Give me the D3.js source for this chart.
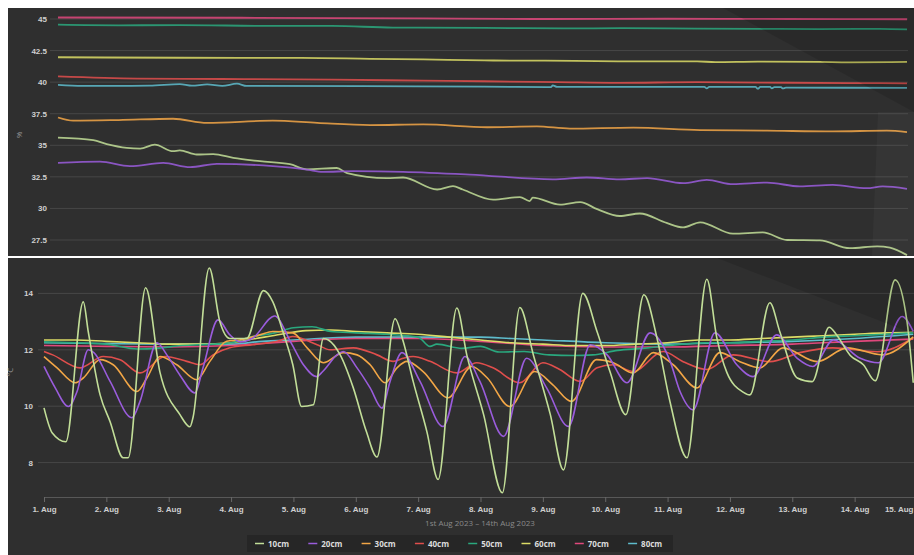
<!DOCTYPE html>
<html>
<head>
<meta charset="utf-8">
<script src="https://cdn.jsdelivr.net/npm/d3@7"></script>
<style>
  body { margin: 0; background: #ffffff; }
  svg { display: block; font-family: "Open Sans", "DejaVu Sans", sans-serif; }
</style>
</head>
<body>
<svg id="chart" width="914" height="555"></svg>
<script>
// ---- Series & styling keys ----
const depths = ["10cm", "20cm", "30cm", "40cm", "50cm", "60cm", "70cm", "80cm"];
const depthColors = ["#c2de98", "#9a5cdc", "#f2a646", "#e04e4c", "#2aa87e", "#dcdc66", "#e0487c", "#5ebccc"];

// ---- Soil moisture (%), [days since 1 Aug 00:00, value] ----
const moist10 = [[0,35.6],[0.58,35.4],[0.8,35.1],[1.13,34.8],[1.35,34.74],[1.59,35.05],[1.89,34.53],[2.0,34.6],[2.28,34.27],[2.55,34.3],[2.88,34.0],[3.32,33.74],[3.81,33.5],[4.09,33.1],[4.58,33.2],[4.75,32.8],[5.4,32.4],[5.67,32.45],[6.23,31.5],[6.49,31.77],[6.65,31.5],[7.15,30.7],[7.59,30.9],[7.75,30.58],[7.8,30.85],[8.25,30.3],[8.58,30.5],[8.86,29.94],[9.23,29.4],[9.56,29.6],[10.0,28.85],[10.27,28.5],[10.55,28.9],[11.09,28.0],[11.58,28.1],[11.98,27.5],[12.52,27.47],[13.01,26.85],[13.46,27.0],[13.67,26.9],[13.95,26.3]];
const moist20 = [[0,33.6],[0.69,33.7],[1.18,33.35],[1.73,33.6],[2.17,33.27],[2.61,33.53],[3.53,33.35],[4.09,33.08],[4.35,32.9],[4.85,32.95],[5.67,32.9],[6.77,32.68],[8.13,32.3],[8.69,32.45],[9.23,32.3],[9.68,32.4],[10.27,32.0],[10.66,32.26],[11.09,31.92],[11.65,32.05],[12.19,31.74],[12.73,31.87],[13.29,31.6],[13.55,31.74],[13.95,31.55]];
const moist30 = [[0,37.2],[0.25,36.95],[1.0,37.0],[1.89,37.1],[2.45,36.77],[3.53,36.95],[4.26,36.77],[5.13,36.6],[6.0,36.65],[7.05,36.43],[7.87,36.5],[8.41,36.32],[9.45,36.4],[10.55,36.2],[11.65,36.16],[12.73,36.1],[13.62,36.16],[13.95,36.05]];
const moist40 = [[0,40.45],[1.3,40.28],[2.7,40.25],[4.5,40.2],[6.0,40.12],[7.0,40.07],[8.2,40.0],[9.2,39.94],[10.5,40.0],[12.0,39.95],[13.0,39.93],[13.95,39.9]];
const moist50 = [[0,44.55],[1.0,44.5],[2.0,44.52],[3.5,44.45],[4.5,44.45],[5.5,44.32],[7.0,44.3],[8.3,44.25],[9.3,44.28],[10.5,44.24],[11.5,44.22],[12.5,44.2],[13.5,44.22],[13.95,44.18]];
const moist60 = [[0,41.97],[2.0,41.93],[4.0,41.92],[5.13,41.85],[6.0,41.8],[7.0,41.72],[8.0,41.7],[9.2,41.65],[10.5,41.65],[10.8,41.58],[11.5,41.62],[12.5,41.6],[13.0,41.57],[13.95,41.6]];
const moist70 = [[0,45.12],[3.0,45.1],[6.0,45.05],[8.0,45.0],[10.0,45.02],[12.0,45.0],[13.95,44.98]];
const moist80 = [[0,39.78],[0.4,39.7],[1.5,39.72],[2.0,39.85],[2.2,39.72],[2.45,39.82],[2.7,39.7],[2.94,39.88],[3.1,39.7],[5.0,39.68],[7.0,39.65],[8.1,39.6],[8.13,39.75],[8.2,39.62],[9.5,39.62],[10.62,39.62],[10.66,39.5],[10.7,39.62],[11.46,39.62],[11.5,39.48],[11.54,39.62],[11.7,39.62],[11.73,39.5],[11.77,39.6],[11.88,39.6],[11.91,39.5],[11.96,39.56],[13.95,39.55]];

// ---- Soil temperature (°C), [days since 1 Aug 00:00, value] ----
const temp10 = [[0,9.94],[0.13,9.06],[0.35,8.74],[0.63,13.7],[0.71,12.64],[0.9,10.4],[1.06,9.45],[1.27,8.17],[1.35,8.17],[1.63,14.2],[1.86,11.2],[2.18,9.7],[2.34,9.27],[2.39,9.6],[2.65,14.9],[2.82,13.0],[2.98,12.4],[3.25,12.4],[3.52,14.1],[3.67,13.7],[3.83,12.65],[3.99,11.47],[4.13,9.99],[4.32,10.05],[4.48,12.4],[4.56,12.35],[4.75,11.82],[4.96,10.65],[5.17,9.1],[5.34,8.2],[5.63,13.1],[5.76,12.3],[5.92,10.88],[6.14,9.1],[6.32,7.4],[6.62,13.48],[6.78,11.82],[7.05,9.7],[7.35,6.93],[7.63,13.5],[7.85,11.8],[8.12,9.7],[8.33,7.74],[8.64,14.0],[8.87,12.64],[9.08,11.2],[9.33,9.7],[9.62,13.95],[9.83,12.42],[10.04,10.15],[10.31,8.17],[10.63,14.5],[10.79,12.42],[10.95,11.2],[11.21,10.5],[11.32,10.4],[11.64,13.67],[11.8,12.64],[12.08,11.0],[12.32,10.87],[12.59,12.8],[12.72,12.5],[12.93,11.8],[13.14,11.47],[13.33,10.9],[13.65,14.48],[13.84,13.0],[13.94,10.83]];
const temp20 = [[0,11.41],[0.18,10.65],[0.39,9.99],[0.53,10.52],[0.71,12.0],[0.8,11.9],[1.06,10.88],[1.41,9.59],[1.54,10.17],[1.81,12.25],[1.97,11.82],[2.18,11.1],[2.42,10.47],[2.55,11.36],[2.79,13.06],[2.98,12.53],[3.15,12.28],[3.35,12.42],[3.7,13.2],[3.95,12.3],[4.16,11.47],[4.37,11.05],[4.47,11.23],[4.7,11.82],[4.8,11.94],[5.02,11.36],[5.23,10.65],[5.42,9.93],[5.55,10.88],[5.74,11.9],[6.03,10.88],[6.4,9.28],[6.75,11.76],[6.99,10.88],[7.37,8.93],[7.74,11.7],[8.06,10.65],[8.41,9.28],[8.76,12.18],[9.03,11.82],[9.35,10.83],[9.72,12.6],[10.04,11.6],[10.2,10.52],[10.41,9.87],[10.76,12.6],[11.11,11.47],[11.37,11.05],[11.75,12.53],[12.08,11.7],[12.33,11.41],[12.66,12.35],[13.09,11.7],[13.38,11.54],[13.76,13.18],[13.94,12.65]];
const temp30 = [[0,11.76],[0.21,11.36],[0.5,10.83],[0.63,11.0],[0.9,11.65],[1.11,11.47],[1.49,10.52],[1.65,11.0],[1.86,11.76],[2.13,11.47],[2.45,10.94],[2.66,11.59],[2.93,12.3],[3.14,12.35],[3.46,12.53],[3.67,12.65],[3.99,12.6],[4.22,12.07],[4.48,11.54],[4.8,11.9],[5.02,11.82],[5.23,11.47],[5.47,10.83],[5.66,11.36],[5.82,11.59],[6.08,11.23],[6.48,10.3],[6.86,11.41],[7.11,11.0],[7.47,9.99],[7.87,11.23],[8.16,10.76],[8.46,10.17],[8.86,11.65],[9.13,11.54],[9.45,11.18],[9.77,11.9],[10.09,11.47],[10.47,10.65],[10.84,11.9],[11.16,11.58],[11.48,11.36],[11.85,12.07],[12.4,11.58],[12.88,12.07],[13.44,11.82],[13.94,12.46]];
const temp40 = [[0,11.94],[0.14,11.82],[0.58,11.36],[0.95,11.76],[1.22,11.65],[1.54,11.18],[1.94,11.76],[2.29,11.59],[2.5,11.47],[2.71,11.82],[2.98,12.07],[3.35,12.18],[3.74,12.3],[3.99,12.47],[4.38,12.18],[4.59,12.0],[4.96,12.07],[5.34,11.82],[5.6,11.59],[5.76,11.7],[5.92,11.76],[6.19,11.59],[6.62,11.18],[6.94,11.54],[7.2,11.36],[7.63,10.83],[8.0,11.54],[8.27,11.3],[8.6,10.88],[8.87,11.36],[9.13,11.47],[9.45,11.23],[9.93,11.94],[10.25,11.58],[10.63,11.3],[11.05,11.82],[11.64,11.58],[12.12,11.9],[12.65,12.07],[13.36,11.93],[13.94,12.42]];
const temp50 = [[0,12.28],[0.5,12.25],[1.0,12.2],[1.5,12.03],[1.8,12.05],[2.2,12.15],[2.7,12.2],[3.0,12.25],[3.3,12.45],[3.7,12.6],[4.0,12.78],[4.3,12.82],[4.6,12.65],[5.0,12.6],[5.5,12.55],[6.0,12.45],[6.19,12.12],[6.3,12.2],[6.7,12.05],[7.0,12.12],[7.3,11.92],[7.7,11.94],[8.1,11.82],[8.5,11.8],[8.8,11.82],[9.2,11.98],[9.6,12.05],[10.0,12.15],[10.6,12.25],[11.0,12.25],[11.5,12.3],[12.0,12.35],[12.5,12.45],[13.0,12.5],[13.5,12.55],[13.94,12.6]];
const temp60 = [[0,12.35],[0.5,12.35],[1.0,12.3],[1.5,12.25],[2.0,12.2],[2.5,12.2],[3.0,12.25],[3.4,12.4],[3.8,12.55],[4.2,12.68],[4.6,12.7],[5.0,12.65],[5.5,12.6],[6.0,12.55],[6.5,12.45],[7.0,12.35],[7.5,12.25],[8.0,12.2],[8.5,12.15],[9.0,12.15],[9.5,12.2],[10.0,12.25],[10.5,12.35],[11.0,12.35],[11.5,12.4],[12.0,12.45],[12.5,12.5],[13.0,12.55],[13.5,12.6],[13.94,12.62]];
const temp70 = [[0,12.15],[1.0,12.12],[2.0,12.1],[3.0,12.15],[4.0,12.3],[5.0,12.4],[6.0,12.4],[7.0,12.3],[8.0,12.15],[9.0,12.1],[10.0,12.1],[11.0,12.15],[12.0,12.2],[13.0,12.3],[13.94,12.38]];
const temp80 = [[0,12.25],[1.0,12.22],[2.0,12.2],[3.0,12.2],[3.5,12.3],[4.0,12.35],[5.0,12.45],[6.0,12.45],[7.0,12.45],[7.5,12.4],[8.0,12.35],[9.0,12.25],[10.0,12.2],[11.0,12.25],[12.0,12.3],[13.0,12.4],[13.94,12.55]];

const moistSeries = [moist10, moist20, moist30, moist40, moist50, moist60, moist70, moist80];
const tempSeries = [temp10, temp20, temp30, temp40, temp50, temp60, temp70, temp80];

// ---- Axis ticks & text ----
const moistTicks = [27.5, 30, 32.5, 35, 37.5, 40, 42.5, 45];
const tempTicks = [8, 10, 12, 14];
const moistUnit = "%";
const tempUnit = "°C";
const rangeTitle = "1st Aug 2023 – 14th Aug 2023";

// ---- Helpers ----
const DAY = 864e5;
const start = new Date(2023, 7, 1);
const at = d => new Date(+start + d * DAY);

const svg = d3.select("#chart");
const W = 914, H = 555;

// Panels
svg.append("rect").attr("x", 0).attr("y", 0).attr("width", W).attr("height", H).attr("fill", "#ffffff");
svg.append("rect").attr("x", 8).attr("y", 8).attr("width", W - 8).attr("height", 248).attr("fill", "#2f2f2f");
svg.append("rect").attr("x", 8).attr("y", 258).attr("width", W - 8).attr("height", H - 258).attr("fill", "#2f2f2f");

const defs = svg.append("defs");
defs.append("clipPath").attr("id", "clipTop").append("rect").attr("x", 8).attr("y", 8).attr("width", W - 8).attr("height", 248);
defs.append("clipPath").attr("id", "clipBottom").append("rect").attr("x", 8).attr("y", 258).attr("width", W - 8).attr("height", 239);

const labelFont = "8px";

// ================= Top: soil moisture =================
const xTop = d3.scaleTime().domain([at(0), at(13.95)]).range([58, 907]);
const yTop = d3.scaleLinear().domain([27.5, 45]).range([240, 19]);

const gTop = svg.append("g");
gTop.selectAll("line.grid").data(moistTicks).join("line")
  .attr("x1", 50).attr("x2", 908)
  .attr("y1", d => yTop(d)).attr("y2", d => yTop(d))
  .attr("stroke", "#474747").attr("stroke-width", 1);

const yAxisTop = d3.axisLeft(yTop).tickValues(moistTicks).tickSize(0).tickPadding(0).tickFormat(d3.format("~g"));
const gyTop = gTop.append("g").attr("transform", "translate(47,0)").call(yAxisTop);
gyTop.select(".domain").remove();
gyTop.selectAll("text").attr("fill", "#cfcfcf").style("font-size", labelFont).style("font-weight", "700");

gTop.append("text").attr("transform", "translate(22,135) rotate(-90)")
  .attr("text-anchor", "middle").attr("fill", "#9a9a9a").style("font-size", "8px").text(moistUnit);

const lineTop = d3.line().x(d => xTop(at(d[0]))).y(d => yTop(d[1])).curve(d3.curveMonotoneX);
const topLines = gTop.append("g").attr("clip-path", "url(#clipTop)");
moistSeries.forEach((s, i) => {
  topLines.append("path").datum(s).attr("d", lineTop)
    .attr("fill", "none").attr("stroke", depthColors[i]).attr("stroke-opacity", 0.85)
    .attr("stroke-width", 1.8).attr("stroke-linejoin", "round");
});

// ================= Bottom: soil temperature =================
const xBot = d3.scaleTime().domain([at(0), at(14)]).range([44, 917]);
const yBot = d3.scaleLinear().domain([8, 14]).range([462.6, 293.4]);

const gBot = svg.append("g");
gBot.selectAll("line.grid").data(tempTicks).join("line")
  .attr("x1", 38).attr("x2", W)
  .attr("y1", d => yBot(d)).attr("y2", d => yBot(d))
  .attr("stroke", "#474747").attr("stroke-width", 1);

const yAxisBot = d3.axisLeft(yBot).tickValues(tempTicks).tickSize(0).tickPadding(0).tickFormat(d3.format("~g"));
const gyBot = gBot.append("g").attr("transform", "translate(33,0)").call(yAxisBot);
gyBot.select(".domain").remove();
gyBot.selectAll("text").attr("fill", "#cfcfcf").style("font-size", labelFont).style("font-weight", "700");

gBot.append("text").attr("transform", "translate(13,372) rotate(-90)")
  .attr("text-anchor", "middle").attr("fill", "#9a9a9a").style("font-size", "8px").text(tempUnit);

// Date axis
const xAxisBot = d3.axisBottom(xBot)
  .ticks(d3.timeDay.every(1))
  .tickFormat(d3.timeFormat("%-d. %b"))
  .tickSizeInner(5).tickSizeOuter(0).tickPadding(4);
const gxBot = gBot.append("g").attr("transform", "translate(0,497)").call(xAxisBot);
gxBot.select(".domain").attr("stroke", "#585858");
gxBot.selectAll(".tick line").attr("stroke", "#686868");
gxBot.selectAll("text").attr("fill", "#cfcfcf").style("font-size", labelFont).style("font-weight", "700");
// keep the last date label inside the frame
gxBot.selectAll(".tick").each(function (d) {
  const px = xBot(d);
  if (px > W - 15) {
    d3.select(this).select("text").attr("text-anchor", "end").attr("x", (W - 1) - px);
  }
});

const lineBot = d3.line().x(d => xBot(at(d[0]))).y(d => yBot(d[1])).curve(d3.curveMonotoneX);
const botLines = gBot.append("g").attr("clip-path", "url(#clipBottom)");
// draw deep, flat series first so the fluctuating shallow ones sit on top
[7, 6, 5, 4, 3, 2, 1, 0].forEach(i => {
  botLines.append("path").datum(tempSeries[i]).attr("d", lineBot)
    .attr("fill", "none").attr("stroke", depthColors[i])
    .attr("stroke-width", 1.6).attr("stroke-linejoin", "round");
});

// Range title
svg.append("text").attr("x", 480).attr("y", 526).attr("text-anchor", "middle")
  .attr("fill", "#8a8a8a").style("font-size", "8px").text(rangeTitle);

// Legend
const lg = svg.append("g");
lg.append("rect").attr("x", 247).attr("y", 535).attr("width", 426).attr("height", 17).attr("fill", "#262626");
const item = lg.selectAll("g.item").data(depths).join("g")
  .attr("transform", (d, i) => `translate(${255 + i * 53.3},543.5)`);
item.append("line").attr("x1", 0).attr("x2", 9).attr("y1", 0).attr("y2", 0)
  .attr("stroke", (d, i) => depthColors[i]).attr("stroke-width", 1.5);
item.append("text").attr("x", 13).attr("y", 3).attr("fill", "#dcdcdc")
  .style("font-size", "8px").style("font-weight", "700").text(d => d);

// Soft sheen across the right side of both panels
svg.append("polygon").attr("points", "723,8 914,8 914,112").attr("fill", "#000").attr("fill-opacity", 0.12);
svg.append("polygon").attr("points", "717,258 914,258 914,334").attr("fill", "#000").attr("fill-opacity", 0.12);
svg.append("polygon").attr("points", "878,112 914,112 914,256 872,256").attr("fill", "#fff").attr("fill-opacity", 0.03);
</script>
</body>
</html>
